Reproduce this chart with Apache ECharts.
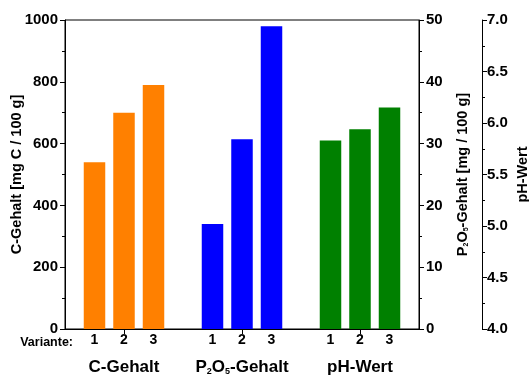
<!DOCTYPE html>
<html>
<head>
<meta charset="utf-8">
<script src="https://cdn.jsdelivr.net/npm/echarts@6/dist/echarts.min.js"></script>
<style>html,body{margin:0;padding:0;background:#fff;}#c{width:529px;height:378px;}</style>
</head>
<body>
<div id="c"></div>
<script>
// ---- data ----
var variantLabels = ['1', '2', '3'];
var groupLabels = ['C-Gehalt', 'P2O5-Gehalt', 'pH-Wert'];
var cValues = [540, 700, 790];        // mg C / 100 g
var pValues = [17, 30.7, 49];         // mg / 100 g
var phValues = [5.83, 5.94, 6.15];    // pH
var cTicks = [0, 1000, 200];
var pTicks = [0, 50, 10];
var phTicks = [4, 7, 0.5];

// axis categories: blank slot, 3 variants, blank, 3 variants, blank, 3 variants, blank
var xCats = [''];
groupLabels.forEach(function () {
  variantLabels.forEach(function (v) { xCats.push(v); });
  xCats.push('');
});
function place(groupIdx, vals) {
  var arr = xCats.map(function () { return '-'; });
  vals.forEach(function (v, i) { arr[groupIdx * 4 + 1 + i] = v; });
  return arr;
}

var FONT = 'Liberation Sans, Arial, sans-serif';
var black = '#000';
function yAx(pos, t, extra) {
  var o = {
    type: 'value', position: pos, min: t[0], max: t[1], interval: t[2],
    axisLine: { show: true, lineStyle: { color: black, width: 1 } },
    axisTick: { show: true, inside: false, length: 5, lineStyle: { color: black } },
    minorTick: { show: true, splitNumber: 2, length: 3, lineStyle: { color: black } },
    splitLine: { show: false },
    axisLabel: { color: black, fontWeight: 'bold', fontSize: 15, fontFamily: FONT, margin: 7,
      formatter: function (v) { return String(v); } },
    nameLocation: 'middle', nameRotate: 90, nameMoveOverlap: false,
    nameTextStyle: { color: black, fontWeight: 'bold', fontSize: 14.5, fontFamily: FONT }
  };
  for (var k in extra) o[k] = extra[k];
  return o;
}

var chart = echarts.init(document.getElementById('c'));
chart.setOption({
  animation: false,
  backgroundColor: '#fff',
  grid: { left: 65, right: 110, top: 20, bottom: 49, outerBoundsMode: 'none', containLabel: false,
    show: true, borderColor: black, borderWidth: 1, backgroundColor: 'transparent' },
  xAxis: [
    {
      type: 'category', data: xCats, boundaryGap: false,
      axisLine: { show: true, lineStyle: { color: black } },
      axisTick: { show: false },
      axisLabel: { interval: 0, color: black, fontWeight: 'bold', fontSize: 14, fontFamily: FONT, margin: 4 },
      name: 'Variante:', nameLocation: 'start', nameGap: -8, nameMoveOverlap: false,
      nameTextStyle: { color: black, fontWeight: 'bold', fontSize: 12.5, fontFamily: FONT, verticalAlign: 'top', align: 'right', padding: [7, 0, 0, 0] }
    },
    {
      type: 'category', data: groupLabels, position: 'bottom', offset: 22, boundaryGap: true,
      axisLine: { show: true, lineStyle: { color: black } },
      axisTick: { show: true, inside: false, alignWithLabel: true, length: 5, lineStyle: { color: black } },
      axisLabel: {
        interval: 0, color: black, fontWeight: 'bold', fontSize: 17, fontFamily: FONT, margin: 8,
        formatter: function (v) { return v.replace('P2O5', 'P{sub|2}O{sub|5}'); },
        rich: { sub: { fontSize: 9, fontWeight: 'bold', fontFamily: FONT, color: black, verticalAlign: 'bottom', padding: [8, 0, 0, 0] } }
      }
    }
  ],
  yAxis: [
    yAx('left', cTicks, { name: 'C-Gehalt [mg C / 100 g]', nameGap: 41 }),
    yAx('right', pTicks, {
      name: 'P{sub|2}O{sub|5}-Gehalt [mg / 100 g]', nameGap: 36,
      nameTextStyle: { color: black, fontWeight: 'bold', fontSize: 14.5, fontFamily: FONT,
        rich: { sub: { fontSize: 7, fontWeight: 'bold', fontFamily: FONT, color: black, verticalAlign: 'bottom', padding: [8, 0, 0, 0] } } }
    }),
    yAx('right', phTicks, {
      offset: 63, name: 'pH-Wert', nameGap: 33,
      axisLabel: { color: black, fontWeight: 'bold', fontSize: 15, fontFamily: FONT, margin: 5, formatter: function (v) { return v.toFixed(1); } }
    })
  ],
  series: [
    { type: 'bar', xAxisIndex: 0, yAxisIndex: 0, data: place(0, cValues), barWidth: 21.5, barGap: '-100%', itemStyle: { color: '#FF8000' } },
    { type: 'bar', xAxisIndex: 0, yAxisIndex: 1, data: place(1, pValues), barWidth: 21.5, barGap: '-100%', itemStyle: { color: '#0000FF' } },
    { type: 'bar', xAxisIndex: 0, yAxisIndex: 2, data: place(2, phValues), barWidth: 21.5, barGap: '-100%', itemStyle: { color: '#008000' } }
  ]
});
</script>
</body>
</html>
